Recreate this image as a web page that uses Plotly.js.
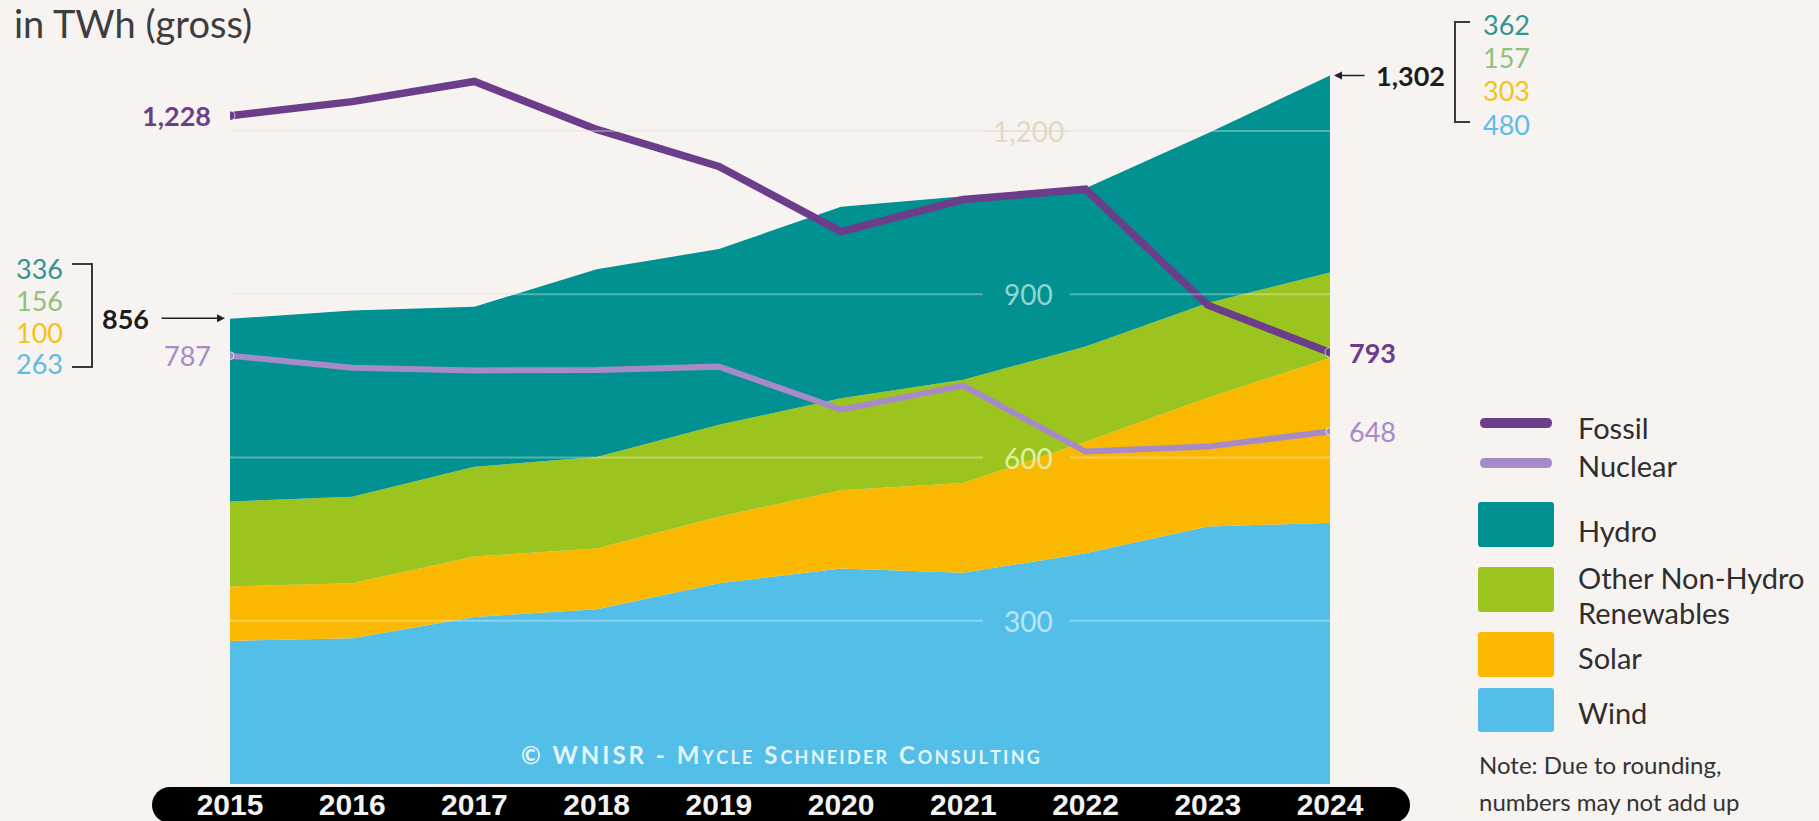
<!DOCTYPE html>
<html>
<head>
<meta charset="utf-8">
<script src="https://cdn.plot.ly/plotly-3.0.1.min.js"></script>
<style>
  html, body { margin: 0; padding: 0; background: #f7f3f1; }
  #chart { width: 1819px; height: 821px; }
</style>
</head>
<body>
<div id="chart"></div>
<script>
// ---------- DATA (TWh, gross) ----------
const years = [2015, 2016, 2017, 2018, 2019, 2020, 2021, 2022, 2023, 2024];
const yearLabels = ['2015', '2016', '2017', '2018', '2019', '2020', '2021', '2022', '2023', '2024'];
const wind    = [263, 268, 307, 321, 369, 396, 388, 424, 473, 480];
const solar   = [100, 101, 111, 112, 122, 144, 165, 205, 237, 303];
const otherRE = [156, 159, 165, 168, 169, 169, 190, 175, 174, 157];
const hydro   = [336, 342, 294, 345, 323, 352, 337, 291, 312, 362];
const fossil  = [1228, 1254, 1291, 1203, 1135, 1015, 1074, 1093, 880, 793];
const nuclear = [787, 765, 760, 761, 767, 688, 732, 611, 620, 648];
const totalLabels = [856, 1302];                 // published totals (rounded)
const breakdownStart = [336, 156, 100, 263];     // hydro, other, solar, wind 2015
const breakdownEnd   = [362, 157, 303, 480];     // hydro, other, solar, wind 2024
const gridTicks = [300, 600, 900, 1200];
const gridTickLabels = ['300', '600', '900', '1,200'];
const legendLabels = ['Fossil', 'Nuclear', 'Hydro', 'Other Non-Hydro', 'Renewables', 'Solar', 'Wind'];

// ---------- STYLE ----------
const BG = '#f7f3f1';
const C = {
  fossil: '#6b3d8b', nuclear: '#a78bc8',
  hydro: '#009190', other: '#9cc41e', solar: '#fbb800', wind: '#53bfe8'
};
const numColors = ['#2f9593', '#8fc07c', '#f3c31a', '#5dbde4'];
const gridLabelColors = ['#b8e4f6', '#e4eea6', '#92d5d3', '#e2d8c7'];
const FONT = 'Lato, "Open Sans", sans-serif';

// pixel -> paper helpers (plot area: x 230..1330, y 20..784)
const L = 230, R = 1330, T = 20, B = 784;
const px = x => (x - L) / (R - L);
const py = y => (B - y) / (B - T);
const P = (x, y) => px(x) + ',' + py(y);
const fmt = v => v.toLocaleString('en-US');

// ---------- TRACES ----------
const areaTrace = (name, vals, color) => ({
  type: 'scatter', mode: 'lines', name, x: years, y: vals,
  stackgroup: 're', line: { width: 0, color }, fillcolor: color,
  hoverinfo: 'skip', showlegend: false
});
const endMarks = (n, s) => years.map((_, i) => (i === 0 || i === n - 1) ? s : 0);

const traces = [
  areaTrace('Wind', wind, C.wind),
  areaTrace('Solar', solar, C.solar),
  areaTrace('Other Non-Hydro Renewables', otherRE, C.other),
  areaTrace('Hydro', hydro, C.hydro),
  { type: 'scatter', mode: 'lines+markers', name: 'Nuclear', x: years, y: nuclear,
    line: { color: C.nuclear, width: 6 }, marker: { color: C.nuclear, size: endMarks(years.length, 8) },
    hoverinfo: 'skip', showlegend: false },
  { type: 'scatter', mode: 'lines+markers', name: 'Fossil', x: years, y: fossil,
    line: { color: C.fossil, width: 7.5 }, marker: { color: C.fossil, size: endMarks(years.length, 10) },
    hoverinfo: 'skip', showlegend: false }
];

// ---------- SHAPES ----------
const shapes = [];
// year band (rounded)
(function () {
  const x0 = 152, x1 = 1410, y0 = 787, y1 = 823, r = 18, ym = (y0 + y1) / 2, k = 0.5523 * r;
  const d = 'M' + P(x0 + r, y0) + ' L' + P(x1 - r, y0) +
    ' C' + P(x1 - r + k, y0) + ' ' + P(x1, ym - k) + ' ' + P(x1, ym) +
    ' C' + P(x1, ym + k) + ' ' + P(x1 - r + k, y1) + ' ' + P(x1 - r, y1) +
    ' L' + P(x0 + r, y1) +
    ' C' + P(x0 + r - k, y1) + ' ' + P(x0, ym + k) + ' ' + P(x0, ym) +
    ' C' + P(x0, ym - k) + ' ' + P(x0 + r - k, y0) + ' ' + P(x0 + r, y0) + ' Z';
  shapes.push({ type: 'path', xref: 'paper', yref: 'paper', path: d, fillcolor: '#000000',
    line: { width: 0 }, layer: 'below' });
})();
// gridlines above areas with a gap for the label
const gapL = 2021.16, gapR = 2021.87, gapC = 2021.53;
gridTicks.forEach(v => {
  [[years[0], gapL], [gapR, years[years.length - 1]]].forEach(([a, b]) => {
    shapes.push({ type: 'line', xref: 'x', yref: 'y', x0: a, x1: b, y0: v, y1: v,
      line: { color: 'rgba(255,255,255,0.32)', width: 2 }, layer: 'above' });
  });
});
// brackets
const bracketLine = { color: '#3a3a3a', width: 2 };
shapes.push({ type: 'path', xref: 'paper', yref: 'paper', layer: 'above', line: bracketLine,
  path: 'M' + P(72, 264) + ' L' + P(92, 264) + ' L' + P(92, 367) + ' L' + P(72, 367) });
shapes.push({ type: 'path', xref: 'paper', yref: 'paper', layer: 'above', line: bracketLine,
  path: 'M' + P(1470, 22) + ' L' + P(1455, 22) + ' L' + P(1455, 122) + ' L' + P(1470, 122) });
// legend swatches
function roundRect(x0, y0, x1, y1, r) {
  return 'M' + P(x0 + r, y0) + ' L' + P(x1 - r, y0) + ' Q' + P(x1, y0) + ' ' + P(x1, y0 + r) +
    ' L' + P(x1, y1 - r) + ' Q' + P(x1, y1) + ' ' + P(x1 - r, y1) +
    ' L' + P(x0 + r, y1) + ' Q' + P(x0, y1) + ' ' + P(x0, y1 - r) +
    ' L' + P(x0, y0 + r) + ' Q' + P(x0, y0) + ' ' + P(x0 + r, y0) + ' Z';
}
const lx0 = 1478, lx1 = 1554;
shapes.push({ type: 'path', xref: 'paper', yref: 'paper', layer: 'above', line: { width: 0 },
  fillcolor: C.fossil, path: roundRect(lx0 + 2, 418, lx1 - 2, 428, 5) });
shapes.push({ type: 'path', xref: 'paper', yref: 'paper', layer: 'above', line: { width: 0 },
  fillcolor: C.nuclear, path: roundRect(lx0 + 2, 458, lx1 - 2, 468, 5) });
[[C.hydro, 502, 547], [C.other, 567, 612], [C.solar, 632, 677], [C.wind, 688, 732]].forEach(([c, a, b]) => {
  shapes.push({ type: 'path', xref: 'paper', yref: 'paper', layer: 'above', line: { width: 0 },
    fillcolor: c, path: roundRect(lx0, a, lx1, b, 3) });
});

// ---------- ANNOTATIONS ----------
const ann = [];
const txt = (text, x, y, opts = {}) => Object.assign({
  text, x: px(x), y: py(y), xref: 'paper', yref: 'paper', showarrow: false,
  xanchor: 'left', yanchor: 'middle', font: { family: FONT, size: 28, color: '#333' }
}, opts);

ann.push(txt('in TWh (gross)', 12, 23, { font: { family: FONT, size: 38, color: '#3d3d3d' } }));
// fossil / nuclear end labels
ann.push(Object.assign(txt('<b>' + fmt(fossil[0]) + '</b>', 213, 0, { xanchor: 'right',
  font: { family: FONT, size: 27, color: C.fossil } }), { yref: 'y', y: fossil[0] }));
ann.push(Object.assign(txt(fmt(nuclear[0]), 213, 0, { xanchor: 'right',
  font: { family: FONT, size: 27, color: C.nuclear } }), { yref: 'y', y: nuclear[0] }));
ann.push(Object.assign(txt('<b>' + fmt(fossil[fossil.length - 1]) + '</b>', 1347, 0,
  { font: { family: FONT, size: 27, color: C.fossil } }), { yref: 'y', y: fossil[fossil.length - 1] }));
ann.push(Object.assign(txt(fmt(nuclear[nuclear.length - 1]), 1347, 0,
  { font: { family: FONT, size: 27, color: C.nuclear } }), { yref: 'y', y: nuclear[nuclear.length - 1] }));
// totals with arrows
ann.push(Object.assign(txt('<b>' + fmt(totalLabels[0]) + '</b>', 151, 0, { xanchor: 'right',
  font: { family: FONT, size: 27, color: '#1c1c1c' } }), { yref: 'y', y: totalLabels[0] }));
ann.push({ x: px(225), y: totalLabels[0], xref: 'paper', yref: 'y', text: '', showarrow: true,
  ax: -65, ay: 0, arrowhead: 2, arrowsize: 1, arrowwidth: 1.6, arrowcolor: '#222', standoff: 0 });
ann.push(Object.assign(txt('<b>' + fmt(totalLabels[1]) + '</b>', 1374, 0,
  { font: { family: FONT, size: 27, color: '#1c1c1c' } }), { yref: 'y', y: totalLabels[1] }));
ann.push({ x: px(1334), y: totalLabels[1], xref: 'paper', yref: 'y', text: '', showarrow: true,
  ax: 32, ay: 0, arrowhead: 2, arrowsize: 1, arrowwidth: 1.6, arrowcolor: '#222', standoff: 0 });
// breakdown numbers
const leftYs = [268, 300, 332, 363], rightYs = [25, 58, 91, 124];
breakdownStart.forEach((v, i) => ann.push(txt(String(v), 14, leftYs[i],
  { font: { family: FONT, size: 27, color: numColors[i] } })));
breakdownEnd.forEach((v, i) => ann.push(txt(String(v), 1481, rightYs[i],
  { font: { family: FONT, size: 27, color: numColors[i] } })));
// gridline labels
gridTicks.forEach((v, i) => ann.push({ text: gridTickLabels[i], x: gapC, y: v, xref: 'x', yref: 'y',
  showarrow: false, xanchor: 'center', yanchor: 'middle',
  font: { family: FONT, size: 28, color: gridLabelColors[i] } }));
// watermark (small caps, letter-spaced with thin spaces)
const sp = s => s.split('').join('\u2009');
const sc = s => '<span style="font-size:18px">' + sp(s) + '</span>';
const wm = sp('© WNISR - M') + '\u2009' + sc('YCLE') + '\u2009 \u2009S\u2009' + sc('CHNEIDER') +
  '\u2009 \u2009C\u2009' + sc('ONSULTING');
ann.push(txt('<b>' + wm + '</b>', 780, 754,
  { xanchor: 'center', font: { family: FONT, size: 24, color: 'rgba(255,255,255,0.85)' } }));
// legend text
const legYs = [427, 465, 530, 577, 612, 657, 712];
legendLabels.forEach((t, i) => ann.push(txt(t, 1576, legYs[i],
  { font: { family: FONT, size: 29, color: '#2e2e2e' } })));
ann.push(txt('Note: Due to rounding,', 1477, 764, { font: { family: FONT, size: 24, color: '#333' } }));
ann.push(txt('numbers may not add up', 1477, 801, { font: { family: FONT, size: 24, color: '#333' } }));

// ---------- LAYOUT ----------
const layout = {
  width: 1819, height: 821,
  paper_bgcolor: BG, plot_bgcolor: BG,
  margin: { l: L, r: 1819 - R, t: T, b: 821 - B, pad: 0 },
  showlegend: false,
  xaxis: {
    range: [years[0], years[years.length - 1]], fixedrange: true,
    showgrid: false, zeroline: false, showline: false, ticks: '',
    tickvals: years, ticktext: yearLabels.map(s => '<b>' + s + '</b>'),
    tickfont: { family: '"Liberation Sans", Arial, sans-serif', size: 30, color: '#f2f2f2' }
  },
  yaxis: {
    range: [0, 1404], fixedrange: true, zeroline: false, showline: false,
    tickvals: gridTicks, showticklabels: false, ticks: '',
    showgrid: true, gridcolor: '#ece4db', gridwidth: 2
  },
  shapes, annotations: ann,
  hovermode: false
};

Plotly.newPlot('chart', traces, layout, { displayModeBar: false, staticPlot: true });
</script>
</body>
</html>
